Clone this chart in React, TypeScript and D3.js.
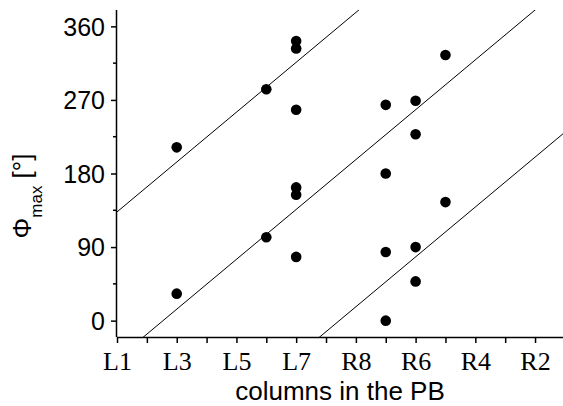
import React, { useEffect, useRef } from 'react';
import * as d3 from 'd3';

// column names along the PB, left to right
const columns = ['L1', 'L2', 'L3', 'L4', 'L5', 'L6', 'L7', 'L8', 'R8', 'R7', 'R6', 'R5', 'R4', 'R3', 'R2', 'R1'];
const labelledColumns = ['L1', 'L3', 'L5', 'L7', 'R8', 'R6', 'R4', 'R2'];

// measured points
const pointColumns = ['L3', 'L3', 'L6', 'L6', 'L7', 'L7', 'L7', 'L7', 'L7', 'L7', 'R7', 'R7', 'R7', 'R7', 'R6', 'R6', 'R6', 'R6', 'R5', 'R5'];
const pointPhi = [212, 33, 283, 102, 342, 333, 258, 163, 154, 78, 264, 180, 84, 0, 269, 228, 90, 48, 325, 145];

// parallel guide lines, phi = slope * column + offset
const lineSlope = 30.5;
const lineOffsets = [133, -47, -227];

const yTicks = [0, 90, 180, 270, 360];
const yMinorTicks = [45, 135, 225, 315];

const App: React.FC = () => {
  const svgRef = useRef<SVGSVGElement>(null);
  const width = 563;
  const height = 406;

  useEffect(() => {
    document.body.style.margin = '0';
    const svg = d3.select(svgRef.current);
    svg.selectAll('*').remove();

    const margin = { top: 10, left: 117, bottom: 69 };
    const plotBottom = height - margin.bottom;

    const x = d3.scaleLinear()
      .domain([0, 15])
      .range([margin.left, margin.left + 15 * 29.86]);

    const y = d3.scaleLinear()
      .domain([-20, 380])
      .range([plotBottom, margin.top]);

    const sans = '"Liberation Sans", Arial, sans-serif';
    const serif = '"Liberation Serif", "Times New Roman", serif';

    svg.append('clipPath')
      .attr('id', 'plot-clip')
      .append('rect')
      .attr('x', margin.left)
      .attr('y', margin.top)
      .attr('width', width - margin.left)
      .attr('height', plotBottom - margin.top);

    const plot = svg.append('g').attr('clip-path', 'url(#plot-clip)');

    // guide lines
    lineOffsets.forEach(offset => {
      const l = d3.line<number>()
        .x(c => x(c))
        .y(c => y(lineSlope * c + offset));
      plot.append('path')
        .attr('d', l([-2, 17])!)
        .attr('fill', 'none')
        .attr('stroke', '#000')
        .attr('stroke-width', 1);
    });

    // points
    plot.selectAll('circle')
      .data(pointPhi.map((p, i) => ({ col: pointColumns[i], phi: p })))
      .join('circle')
      .attr('cx', d => x(columns.indexOf(d.col)))
      .attr('cy', d => y(d.phi))
      .attr('r', 5.3)
      .attr('fill', '#000');

    // x axis
    const xAxis = d3.axisBottom(x)
      .tickValues(d3.range(0, 15))
      .tickSize(6)
      .tickFormat(d => {
        const name = columns[+d];
        return labelledColumns.includes(name) ? name : '';
      });

    const gx = svg.append('g')
      .attr('transform', `translate(0,${plotBottom})`)
      .call(xAxis);
    gx.select('.domain').attr('d', `M${margin.left},0.5H${width}`);
    gx.selectAll('path, line').attr('stroke', '#000').attr('stroke-width', 1.5);
    gx.selectAll('text')
      .attr('font-family', serif)
      .attr('font-size', 26)
      .attr('fill', '#000')
      .attr('y', 0)
      .attr('dy', 0)
      .attr('transform', 'translate(0,33)');

    // y axis
    const yAxis = d3.axisLeft(y)
      .tickValues(yTicks)
      .tickSize(6)
      .tickPadding(6);
    const gy = svg.append('g')
      .attr('transform', `translate(${margin.left},0)`)
      .call(yAxis);
    gy.select('.domain').attr('d', `M-0.5,${margin.top}V${plotBottom}`);
    gy.selectAll('path, line').attr('stroke', '#000').attr('stroke-width', 1.5);
    gy.selectAll('text')
      .attr('font-family', sans)
      .attr('font-size', 25)
      .attr('fill', '#000')
      .attr('dy', '0.35em');

    gy.selectAll('line.minor')
      .data(yMinorTicks)
      .join('line')
      .attr('class', 'minor')
      .attr('x1', -4)
      .attr('x2', 0)
      .attr('y1', d => y(d))
      .attr('y2', d => y(d))
      .attr('stroke', '#000')
      .attr('stroke-width', 1.5);

    // axis titles
    svg.append('text')
      .attr('x', (margin.left + width) / 2)
      .attr('y', 400)
      .attr('text-anchor', 'middle')
      .attr('font-family', sans)
      .attr('font-size', 26)
      .attr('fill', '#000')
      .text('columns in the PB');

    const yTitle = svg.append('text')
      .attr('transform', 'translate(31,196) rotate(-90)')
      .attr('text-anchor', 'middle')
      .attr('font-family', sans)
      .attr('font-size', 26)
      .attr('fill', '#000');
    yTitle.append('tspan').text('Φ');
    yTitle.append('tspan').attr('dy', 11).attr('font-size', 17).text('max');
    yTitle.append('tspan').attr('dy', -11).text(' [°]');
  }, []);

  return <svg ref={svgRef} width={width} height={height} style={{ display: 'block', background: '#fff' }} />;
};

export default App;
